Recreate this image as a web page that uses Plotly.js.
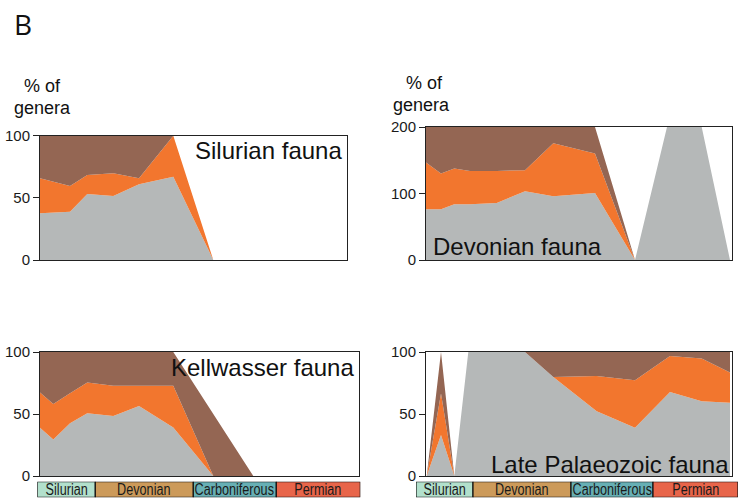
<!DOCTYPE html>
<html>
<head>
<meta charset="utf-8">
<script src="https://cdn.plot.ly/plotly-3.0.1.min.js"></script>
<style>html,body{margin:0;padding:0;background:#fff;}#chart{width:740px;height:503px;}</style>
</head>
<body>
<div id="chart"></div>
<script>
// ---- Data (x = position along the geological time bar of each column) ----
const periods = ['Silurian', 'Devonian', 'Carboniferous', 'Permian'];
const leftPeriodStart = [0, 58, 156, 239];
const leftPeriodEnd = [58, 156, 239, 323];
const rightPeriodStart = [0, 57, 155, 237];
const rightPeriodEnd = [57, 155, 237, 322];

// Silurian fauna
const silX = [3, 33, 50.3, 76.3, 102, 136.3, 176.3];
const silGray = [37.6, 38.9, 53.1, 51.5, 60.9, 67.0, 0];
const silOrange = [28.1, 20.6, 15.3, 18.2, 4.8, 33.0, 0];
const silBrown = [34.3, 40.5, 31.6, 30.3, 34.3, 0, 0];

// Devonian fauna
const devX = [10, 25, 38.3, 54, 80.7, 109, 137.3, 179, 219, 251, 285.7, 314];
const devGray = [76.2, 76.2, 83.8, 83.8, 85.7, 103.4, 95.8, 100.8, 0, 200, 200, 0];
const devOrange = [70.5, 53.9, 53.9, 50.2, 48.3, 31.6, 79.6, 59.5, 0, 0, 0, 0];
const devBrown = [53.3, 69.9, 62.3, 66.0, 66.0, 65.0, 24.6, 39.7, 0, 0, 0, 0];

// Kellwasser fauna
const kelX = [3, 16.3, 33, 50.3, 76.3, 102, 136.3, 176.3, 216.3];
const kelGray = [38.9, 29.5, 42.5, 50.6, 48.4, 56.5, 39.2, 0, 0];
const kelOrange = [28.4, 28.6, 24.3, 24.8, 24.3, 16.2, 33.5, 0, 0];
const kelBrown = [32.7, 41.9, 33.2, 24.6, 27.3, 27.3, 27.3, 50, 0];

// Late Palaeozoic fauna
const lpX = [10.7, 25, 38.3, 52.3, 109, 137.3, 180.7, 219, 254, 285.7, 314];
const lpGray = [0, 33, 0, 100, 100, 79.9, 52.3, 38.9, 67.8, 60.3, 59.0];
const lpOrange = [0, 33.5, 0, 0, 0, 0, 28.4, 38.3, 29.0, 34.4, 24.4];
const lpBrown = [0, 33.5, 0, 0, 0, 20.1, 19.3, 22.8, 3.2, 5.3, 16.6];

const panelTitles = ['Silurian fauna', 'Devonian fauna', 'Kellwasser fauna', 'Late Palaeozoic fauna'];
const yTickVals = [[0, 50, 100], [0, 100, 200], [0, 50, 100], [0, 50, 100]];

// ---- Styles ----
const W = 740, H = 503;
const GRAY = '#b5b8b8', ORANGE = '#f2762e', BROWN = '#946653';
const periodColors = ['#b2e0cc', '#cc9a5a', '#67afb4', '#e8654a'];
const FONT = 'Liberation Sans, Arial, Helvetica, sans-serif';
const NARROW_FACTOR = 0.79;

function px(x0, x1) { return [x0 / W, x1 / W]; }
function py(top, bottom) { return [(H - bottom) / H, (H - top) / H]; }

const traces = [];
function stack(x, g, o, b, ax) {
  const xa = 'x' + ax, ya = 'y' + ax;
  [[g, GRAY], [o, ORANGE], [b, BROWN]].forEach(([v, c]) => {
    traces.push({
      type: 'scatter', mode: 'lines', x: x, y: v, xaxis: xa, yaxis: ya,
      stackgroup: 'g' + ax, fillcolor: c, line: {width: 0, color: c},
      hoverinfo: 'skip'
    });
  });
}
stack(silX, silGray, silOrange, silBrown, '');
stack(devX, devGray, devOrange, devBrown, '2');
stack(kelX, kelGray, kelOrange, kelBrown, '3');
stack(lpX, lpGray, lpOrange, lpBrown, '4');

const periodNotes = [];
function timebar(starts, ends, ax) {
  traces.push({
    type: 'bar', orientation: 'h', xaxis: 'x' + ax, yaxis: 'y' + ax,
    y: periods.map(() => 0), base: starts, x: ends.map((e, i) => e - starts[i]),
    width: 1, marker: {color: periodColors, line: {color: '#111', width: 1.2}},
    hoverinfo: 'skip'
  });
  periods.forEach((p, i) => {
    periodNotes.push({text: p, xref: 'x' + ax, yref: 'y' + ax, x: (starts[i] + ends[i]) / 2, y: 0,
      xanchor: 'center', yanchor: 'middle', showarrow: false,
      font: {family: FONT, size: 16, color: '#1a1a1a'}});
  });
}
timebar(leftPeriodStart, leftPeriodEnd, '5');
timebar(rightPeriodStart, rightPeriodEnd, '6');

function xax(domain, range, anchor) {
  return {domain: domain, range: range, anchor: anchor, showticklabels: false, ticks: '', showgrid: false,
    zeroline: false, showline: true, mirror: true, linecolor: '#222', linewidth: 1, fixedrange: true};
}
function yax(domain, range, tv, anchor) {
  return {domain: domain, range: range, tickvals: tv, ticks: 'outside', ticklen: 6, tickcolor: '#222',
    tickfont: {family: FONT, size: 15, color: '#1a1a1a'}, showgrid: false, zeroline: false,
    showline: true, mirror: true, linecolor: '#222', linewidth: 1, anchor: anchor, fixedrange: true};
}
function tax(domain, range, anchor) {
  return {domain: domain, range: range, anchor: anchor, showticklabels: false, ticks: '', showgrid: false,
    zeroline: false, showline: false, fixedrange: true};
}

const topRow = py(135.7, 260), botRow = py(352, 476), barRow = py(481.7, 497.3);

function note(text, x, y, xanchor, size, family) {
  return {text: text, xref: 'paper', yref: 'paper', x: x / W, y: 1 - y / H, xanchor: xanchor, yanchor: 'middle',
    showarrow: false, font: {family: family || FONT, size: size, color: '#111'}};
}

const layout = {
  width: W, height: H, margin: {l: 0, r: 0, t: 0, b: 0},
  paper_bgcolor: '#fff', plot_bgcolor: '#fff', showlegend: false, barmode: 'overlay',
  font: {family: FONT, color: '#111'},
  xaxis: xax(px(40, 346.7), [3, 309.7], 'y'),
  yaxis: yax(topRow, [0, 100], yTickVals[0], 'x'),
  xaxis2: xax(px(426, 731.5), [10, 315.5], 'y2'),
  yaxis2: yax(py(127, 260), [0, 200], yTickVals[1], 'x2'),
  xaxis3: xax(px(40, 359.3), [3, 322.3], 'y3'),
  yaxis3: yax(botRow, [0, 100], yTickVals[2], 'x3'),
  xaxis4: xax(px(426, 731.7), [10, 315.7], 'y4'),
  yaxis4: yax(botRow, [0, 100], yTickVals[3], 'x4'),
  xaxis5: tax(px(37.3, 360.3), [0, 323], 'y5'),
  yaxis5: tax(barRow, [-0.5, 0.5], 'x5'),
  xaxis6: tax(px(416, 738), [0, 322], 'y6'),
  yaxis6: tax(barRow, [-0.5, 0.5], 'x6'),
  annotations: [
    note('B', 12, 24, 'left', 28, 'Open Sans, ' + FONT),
    note('% of', 42, 86, 'center', 18),
    note('genera', 42, 108, 'center', 18),
    note('% of', 424, 83, 'center', 18),
    note('genera', 421, 105, 'center', 18),
    note(panelTitles[0], 344, 150, 'right', 24),
    note(panelTitles[1], 431, 247, 'left', 24),
    note(panelTitles[2], 356, 367, 'right', 24),
    note(panelTitles[3], 731, 464, 'right', 24)
  ].concat(periodNotes)
};

Plotly.newPlot('chart', traces, layout, {staticPlot: true, displayModeBar: false}).then(function (gd) {
  // the period names in the reference use a narrow typeface: compress the real text horizontally
  gd.querySelectorAll('text.annotation-text').forEach(function (t) {
    if (periods.indexOf(t.textContent) < 0) return;
    const len = t.getComputedTextLength();
    t.setAttribute('lengthAdjust', 'spacingAndGlyphs');
    t.setAttribute('textLength', (len * NARROW_FACTOR).toFixed(1));
  });
});
</script>
</body>
</html>
